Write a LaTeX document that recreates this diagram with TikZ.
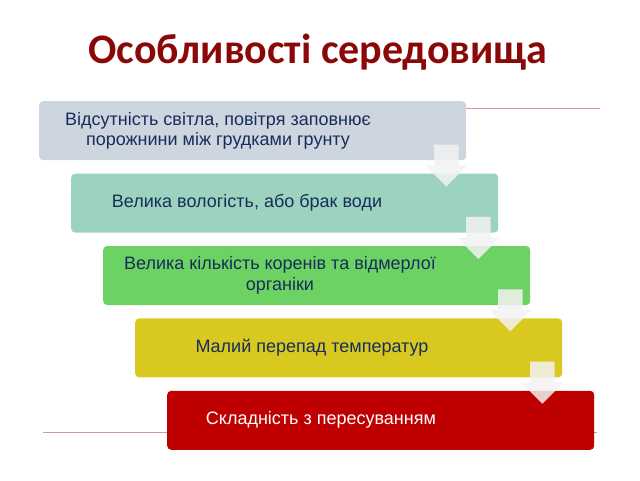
\documentclass[tikz,border=0pt]{standalone}
\usepackage{fontspec}
\setmainfont{Liberation Sans}
\newfontfamily\titlefont{Carlito}
\usetikzlibrary{positioning, shapes.arrows}

\definecolor{titlered}{RGB}{139,8,8}
\definecolor{navytext}{RGB}{23,45,90}
\definecolor{greyblue}{RGB}{205,213,223}
\definecolor{mint}{RGB}{156,211,190}
\definecolor{leaf}{RGB}{108,210,100}
\definecolor{mustard}{RGB}{217,200,31}
\definecolor{crimson}{RGB}{190,0,0}
\definecolor{rule}{RGB}{222,148,148}

\tikzset{
    stage/.style={rectangle, rounded corners=4pt, minimum width=427pt,
        minimum height=59pt, inner sep=0pt},
    stagetext/.style={align=center, text=navytext, inner sep=0pt,
        font=\fontsize{18}{20.5}\selectfont},
    downarrow/.style={single arrow, shape border rotate=270, inner sep=12pt,
        minimum height=42pt, single arrow head extend=9pt,
        fill=white!90!gray, fill opacity=0.85},
}

\begin{document}
\begin{tikzpicture}[x=1pt, y=-1pt]
    \useasboundingbox (0,0) rectangle (640,480);

    % lines
    \draw [rule, line width=1pt] (39,108) -- (600,108);
    \draw [rule, line width=1pt] (43,432) -- (597,432);

    % title
    \node [font=\titlefont\bfseries\fontsize{42}{46}\selectfont, text=titlered] (title) at (318,52) {Особливості середовища};

    % stages
    \node [stage, fill=greyblue, anchor=north west] (b1) at (39,101) {};
    \node [stage, fill=mint, below right=13pt and 32pt of b1.south west] (b2) {};
    \node [stage, fill=leaf, below right=13pt and 32pt of b2.south west] (b3) {};
    \node [stage, fill=mustard, below right=13pt and 32pt of b3.south west] (b4) {};
    \node [stage, fill=crimson, below right=13pt and 32pt of b4.south west] (b5) {};

    % arrows
    \node [downarrow] (a1) at ([shift={(-20,-1)}]b1.south east) {};
    \node [downarrow] (a2) at ([shift={(-20,-1)}]b2.south east) {};
    \node [downarrow] (a3) at ([shift={(-20,-1)}]b3.south east) {};
    \node [downarrow] (a4) at ([shift={(-20,-1)}]b4.south east) {};

    % texts
    \node [stagetext] (t1) at ([xshift=179pt]b1.west) {Відсутність світла, повітря заповнює\\порожнини між грудками грунту};
    \node [stagetext] (t2) at ([xshift=176pt]b2.west) {Велика вологість, або брак води};
    \node [stagetext] (t3) at ([xshift=177pt]b3.west) {Велика кількість коренів та відмерлої\\органіки};
    \node [stagetext] (t4) at ([xshift=177pt]b4.west) {Малий перепад температур};
    \node [stagetext, text=white] (t5) at ([xshift=154pt]b5.west) {Складність з пересуванням};
\end{tikzpicture}
\end{document}
